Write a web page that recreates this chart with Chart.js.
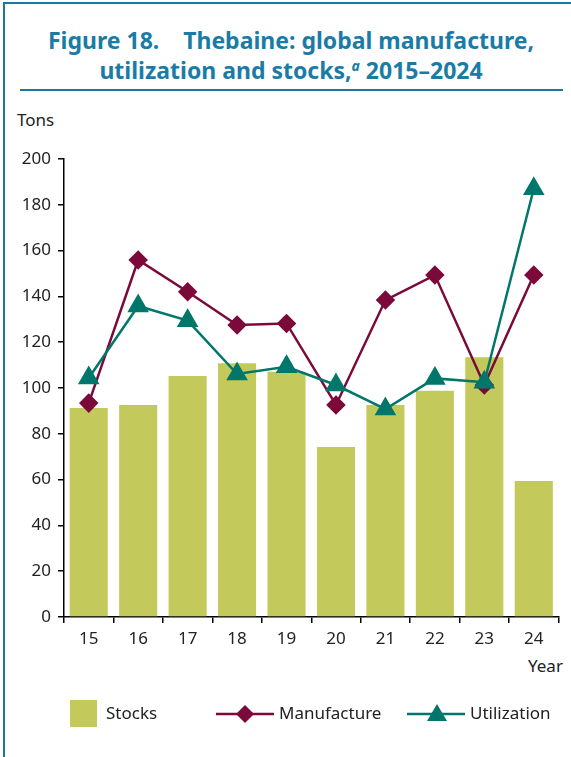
<!DOCTYPE html>
<html>
<head>
<meta charset="utf-8">
<script src="https://cdn.jsdelivr.net/npm/chart.js@4"></script>
<style>
  html, body { margin: 0; padding: 0; background: #fff; }
  body { width: 571px; height: 757px; position: relative; overflow: hidden; font-family: "Noto Sans", sans-serif; }
  .frame-top { position: absolute; left: 3px; top: 2px; width: 568px; height: 2px; background: #1b78a3; }
  .frame-left { position: absolute; left: 3px; top: 2px; width: 2px; height: 755px; background: #1b78a3; }
  .title { position: absolute; left: 2px; top: 25px; width: 578px; text-align: center; color: #1a7ca6;
           font-weight: bold; font-size: 23px; line-height: 30px; }
  .title sup { font-style: italic; font-size: 14px; font-weight: bold; line-height: 0; vertical-align: 8px; }
  .rule { position: absolute; left: 20px; top: 89px; width: 543px; height: 2px; background: #1b78a3; }
  .lbl { position: absolute; font-size: 17px; color: #222; }
  #wrap { position: absolute; left: 0; top: 0; width: 571px; height: 757px; }
</style>
</head>
<body>
<div class="frame-top"></div>
<div class="frame-left"></div>
<div class="title">Figure 18.&nbsp;&nbsp;&nbsp; Thebaine: global manufacture,<br>utilization and stocks,<sup>a</sup> 2015–2024</div>
<div class="rule"></div>
<div class="lbl" style="left:17px; top:108px;">Tons</div>
<div class="lbl" style="left:528px; top:654px;">Year</div>
<div id="wrap"><canvas id="chart"></canvas></div>
<div class="lbl" style="left:70px; top:700px; width:27px; height:27px; background:#c3c95a;"></div>
<div class="lbl" style="left:106px; top:701px;">Stocks</div>
<svg class="lbl" style="left:214px; top:700px;" width="64" height="28">
  <line x1="2" y1="14" x2="60" y2="14" stroke="#7b0a3b" stroke-width="2.5"/>
  <polygon points="31,5 40,14 31,23 22,14" fill="#7b0a3b"/>
</svg>
<div class="lbl" style="left:279px; top:701px;">Manufacture</div>
<svg class="lbl" style="left:405px; top:700px;" width="64" height="28">
  <line x1="2" y1="14" x2="60" y2="14" stroke="#00776a" stroke-width="2.5"/>
  <polygon points="32,4 42,21 22,21" fill="#00776a"/>
</svg>
<div class="lbl" style="left:470px; top:701px;">Utilization</div>
<script>
const years = ['15', '16', '17', '18', '19', '20', '21', '22', '23', '24'];
const stocks = [91.3, 92.6, 105.2, 110.8, 107.1, 74.2, 92.6, 98.8, 113.4, 59.4];
const manufacture = [93.4, 155.9, 142.0, 127.5, 128.2, 92.6, 138.4, 149.3, 101.3, 149.3];
const utilization = [104.4, 135.8, 129.4, 106.1, 109.3, 101.3, 90.8, 104.2, 102.5, 187.0];

const tickFont = { family: '"Noto Sans", sans-serif', size: 17 };

new Chart(document.getElementById('chart'), {
  type: 'bar',
  data: {
    labels: years,
    datasets: [
      {
        type: 'line',
        label: 'Utilization',
        data: utilization,
        borderColor: '#00776a',
        backgroundColor: '#00776a',
        borderWidth: 2.5,
        pointStyle: 'triangle',
        pointRadius: 10,
        pointHoverRadius: 10,
        tension: 0,
        order: 1
      },
      {
        type: 'line',
        label: 'Manufacture',
        data: manufacture,
        borderColor: '#7b0a3b',
        backgroundColor: '#7b0a3b',
        borderWidth: 2.5,
        pointStyle: 'rectRot',
        pointRadius: 8,
        pointHoverRadius: 8,
        tension: 0,
        order: 2
      },
      {
        label: 'Stocks',
        data: stocks,
        backgroundColor: '#c3c95a',
        categoryPercentage: 1,
        barPercentage: 0.77,
        order: 3
      }
    ]
  },
  options: {
    responsive: true,
    maintainAspectRatio: false,
    animation: false,
    layout: { padding: { left: 0, right: 7, top: 159, bottom: 100 } },
    plugins: { legend: { display: false }, tooltip: { enabled: false } },
    scales: {
      x: {
        afterFit: (s) => { s.height = 40; },
        grid: { display: true, drawOnChartArea: false, color: '#000', tickLength: 6, lineWidth: 1.5 },
        border: { color: '#000', width: 1.5 },
        ticks: { color: '#222', font: tickFont, padding: 6 }
      },
      y: {
        min: 0,
        max: 200,
        afterFit: (s) => { s.width = 64; },
        grid: { display: true, drawOnChartArea: false, color: '#000', tickLength: 6, lineWidth: 1.5 },
        border: { color: '#000', width: 1.5 },
        ticks: { stepSize: 20, color: '#222', font: tickFont, padding: 7 }
      }
    }
  }
});
</script>
</body>
</html>
